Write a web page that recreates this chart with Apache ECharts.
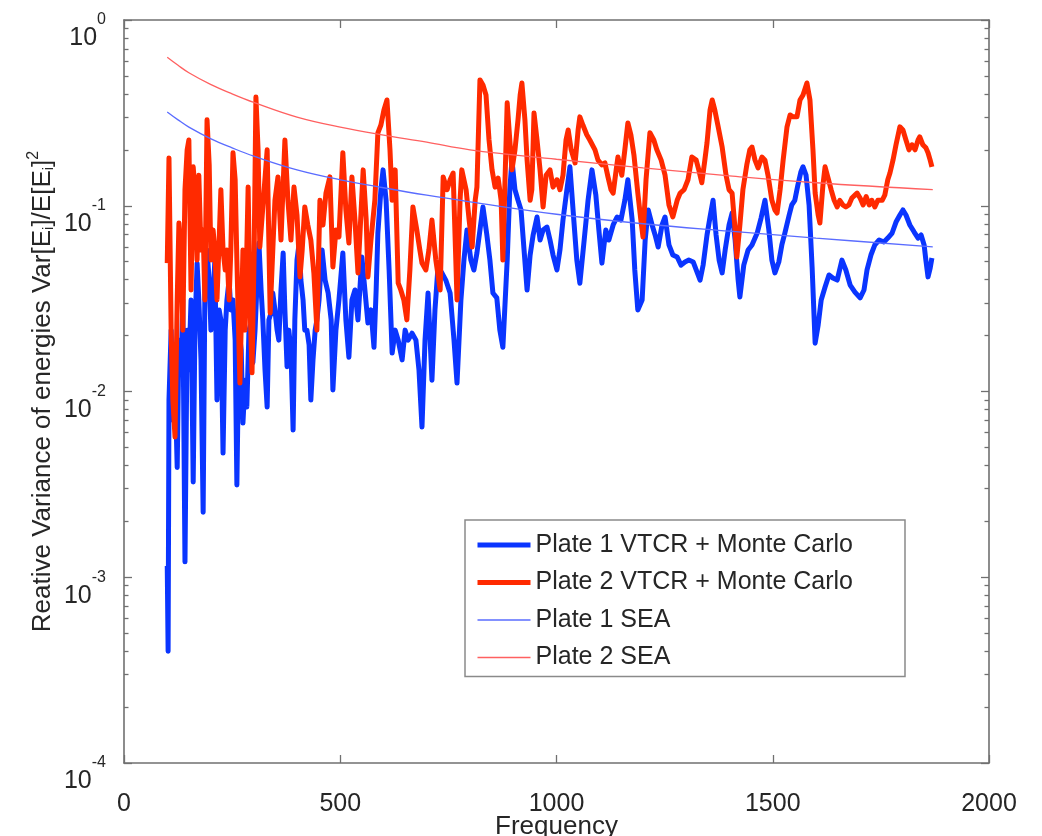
<!DOCTYPE html>
<html>
<head>
<meta charset="utf-8">
<script src="https://cdn.jsdelivr.net/npm/echarts@6/dist/echarts.min.js"></script>
<style>
  html, body { margin: 0; padding: 0; background: #ffffff; }
  #chart { width: 1042px; height: 836px; }
</style>
</head>
<body>
<div id="chart"></div>
<script>
// Plate 1: VTCR + Monte Carlo relative variance
const plate1Freq = [
  100,102,104,109,113,118,123,127,132,136,141,146,150,155,160,164,169,173,178,183,
  187,192,197,201,206,210,215,220,224,229,234,238,243,247,252,257,261,266,271,275,
  280,284,289,294,298,303,308,312,317,321,326,331,335,340,344,349,354,358,363,368,
  372,377,381,386,391,395,400,405,409,414,418,423,428,432,437,442,446,451,458,465,
  472,479,483,490,497,506,513,520,527,534,541,550,557,564,571,578,583,587,594,599,
  606,613,620,627,634,643,650,657,666,675,682,689,696,703,712,719,726,735,744,754,
  763,770,779,786,793,802,809,816,823,830,839,846,853,862,869,876,886,892,897,904,
  911,918,925,932,939,946,955,962,969,978,985,992,1001,1008,1015,1024,1031,1040,1047,1054,
  1064,1073,1082,1091,1098,1105,1114,1121,1131,1140,1149,1158,1165,1175,1181,1188,1198,1205,1212,1221,
  1228,1235,1244,1251,1260,1269,1279,1288,1297,1306,1316,1323,1332,1339,1348,1355,1362,1369,1376,1383,
  1390,1399,1406,1413,1420,1424,1433,1443,1452,1464,1473,1482,1491,1498,1505,1514,1521,1528,1538,1544,
  1551,1558,1565,1570,1577,1584,1591,1598,1605,1612,1621,1630,1639,1649,1660,1669,1679,1690,1702,1711,
  1718,1727,1736,1746,1757,1766,1776,1785,1794,1801,1808,1817,1827,1836,1843,1850,1854,1859,1864,1868
];
const plate1Var = [
  0.00115,0.0004,0.009,0.0214,0.007,0.0115,0.0039,0.0189,0.0131,0.0311,
  0.00121,0.0214,0.0131,0.0311,0.00326,0.0214,0.0491,0.0311,0.0148,0.00224,
  0.0352,0.0578,0.0398,0.0214,0.0311,0.051,0.009,0.0275,0.0243,0.00466,
  0.0214,0.0311,0.0398,0.0275,0.0311,0.0189,0.00314,0.0214,0.0167,0.00676,
  0.0115,0.00825,0.0214,0.0234,0.0143,0.0214,0.0398,0.063,0.0352,0.0243,
  0.0131,0.00825,0.0243,0.0265,0.0339,0.0275,0.0214,0.0189,0.0352,0.0557,
  0.0275,0.0136,0.0214,0.0167,0.0062,0.0243,0.051,0.063,0.0398,0.0311,
  0.0214,0.0214,0.0178,0.009,0.0148,0.0214,0.0243,0.0311,0.0578,0.0398,
  0.0339,0.0243,0.0102,0.0214,0.0311,0.0557,0.0243,0.0153,0.0311,0.0352,
  0.0243,0.053,0.0352,0.0234,0.0275,0.0173,0.0352,0.0713,0.122,0.156,
  0.107,0.0451,0.0161,0.0214,0.0189,0.0148,0.0214,0.0189,0.0206,0.0189,
  0.0131,0.00644,0.0189,0.0339,0.0115,0.0275,0.0468,0.0435,0.0398,0.0339,
  0.0189,0.0111,0.0311,0.051,0.074,0.051,0.0451,0.0557,0.074,0.0985,
  0.0696,0.051,0.0339,0.0319,0.0214,0.0173,0.051,0.122,0.176,0.122,
  0.107,0.0949,0.0578,0.0352,0.0543,0.0696,0.087,0.0654,0.074,0.0768,
  0.0654,0.0543,0.0451,0.0578,0.0838,0.122,0.162,0.0838,0.051,0.0383,
  0.0654,0.107,0.156,0.114,0.074,0.0491,0.074,0.0654,0.0788,0.087,
  0.0838,0.107,0.138,0.0838,0.0451,0.0275,0.0311,0.0654,0.0949,0.0788,
  0.0696,0.06,0.0788,0.087,0.0615,0.0543,0.053,0.0479,0.0498,0.051,
  0.0498,0.0451,0.0398,0.0479,0.0696,0.087,0.107,0.0696,0.051,0.0435,
  0.0578,0.0788,0.0914,0.0654,0.0398,0.0323,0.0479,0.0578,0.0615,0.0713,
  0.0859,0.107,0.074,0.051,0.0435,0.0498,0.0615,0.0713,0.0892,0.101,
  0.107,0.129,0.152,0.162,0.146,0.101,0.0468,0.0182,0.0228,0.0311,
  0.0365,0.0424,0.0408,0.0398,0.051,0.0451,0.0374,0.0343,0.0319,0.0352,
  0.0451,0.0543,0.0615,0.0654,0.0638,0.067,0.0713,0.0817,0.0892,0.0949,
  0.0892,0.0788,0.0722,0.067,0.0696,0.0615,0.051,0.0414,0.0462,0.0523
];

// Plate 2: VTCR + Monte Carlo relative variance
const plate2Freq = [
  100,104,109,113,118,123,127,132,136,141,146,150,155,160,164,169,173,178,183,187,
  192,197,201,206,210,215,220,224,229,234,238,243,247,252,257,261,268,275,280,287,
  291,296,301,305,310,314,321,331,338,345,349,356,363,372,379,386,393,400,407,412,
  418,425,432,439,446,453,460,467,476,483,490,497,506,513,520,527,534,541,553,560,
  564,571,580,587,594,601,608,615,620,627,634,640,647,654,661,668,677,684,689,698,
  705,712,721,731,738,747,754,761,770,777,781,791,798,805,812,816,823,830,837,844,
  851,858,865,872,876,881,886,892,897,904,911,916,920,927,932,939,943,948,955,962,
  969,976,985,992,1001,1008,1015,1022,1027,1034,1043,1050,1054,1061,1070,1077,1089,1096,1105,1112,
  1119,1126,1131,1138,1142,1151,1158,1165,1172,1179,1188,1195,1200,1207,1216,1225,1232,1242,1251,1260,
  1269,1279,1286,1295,1304,1313,1323,1329,1336,1343,1348,1355,1360,1366,1373,1383,1392,1399,1406,1413,
  1417,1424,1431,1440,1447,1452,1459,1466,1475,1482,1489,1498,1505,1510,1517,1524,1533,1540,1547,1556,
  1563,1570,1579,1586,1593,1598,1605,1609,1616,1621,1628,1635,1642,1649,1655,1662,1669,1676,1683,1690,
  1695,1702,1709,1716,1723,1729,1736,1743,1753,1759,1766,1771,1778,1785,1794,1801,1808,1815,1822,1829,
  1836,1840,1847,1854,1859,1864,1868
];
const plate2Var = [
  0.0491,0.181,0.0214,0.009,0.00569,0.0311,0.0807,0.0557,0.0214,0.122,
  0.2,0.226,0.0352,0.162,0.122,0.051,0.146,0.0578,0.074,0.0311,
  0.29,0.166,0.051,0.074,0.0578,0.0311,0.0654,0.122,0.0578,0.0451,
  0.0578,0.0311,0.0578,0.193,0.138,0.051,0.0111,0.0578,0.0214,0.126,
  0.0311,0.0126,0.0578,0.385,0.2,0.06,0.0985,0.2,0.0265,0.0654,
  0.107,0.143,0.0654,0.226,0.107,0.0654,0.126,0.0892,0.0414,0.0578,
  0.0985,0.0788,0.0654,0.0435,0.0214,0.107,0.0788,0.117,0.143,0.0468,
  0.074,0.0679,0.193,0.0949,0.063,0.143,0.0838,0.0435,0.156,0.0838,
  0.0414,0.0654,0.107,0.247,0.272,0.328,0.371,0.2,0.107,0.156,
  0.0383,0.0352,0.0311,0.0243,0.0451,0.0985,0.074,0.0578,0.0491,0.0451,
  0.0578,0.0838,0.051,0.0352,0.143,0.122,0.138,0.15,0.0311,0.107,
  0.156,0.122,0.0838,0.06,0.107,0.126,0.476,0.447,0.395,0.226,
  0.156,0.126,0.141,0.107,0.051,0.138,0.358,0.226,0.156,0.2,
  0.29,0.395,0.458,0.29,0.176,0.107,0.122,0.316,0.226,0.156,
  0.0985,0.146,0.156,0.126,0.138,0.122,0.146,0.226,0.256,0.2,
  0.17,0.256,0.301,0.272,0.241,0.226,0.2,0.176,0.166,0.17,
  0.143,0.122,0.117,0.156,0.183,0.146,0.2,0.279,0.241,0.188,
  0.117,0.0838,0.0679,0.138,0.247,0.226,0.2,0.176,0.146,0.101,
  0.087,0.107,0.117,0.122,0.138,0.183,0.176,0.156,0.133,0.176,
  0.218,0.328,0.371,0.328,0.272,0.207,0.146,0.122,0.117,0.074,
  0.053,0.0788,0.122,0.166,0.2,0.207,0.176,0.16,0.183,0.176,
  0.146,0.107,0.0949,0.0914,0.122,0.176,0.266,0.308,0.301,0.301,
  0.371,0.395,0.458,0.371,0.2,0.117,0.0892,0.0807,0.129,0.162,
  0.141,0.122,0.107,0.0985,0.107,0.101,0.0985,0.101,0.11,0.114,
  0.117,0.11,0.101,0.112,0.101,0.107,0.0985,0.107,0.107,0.114,
  0.138,0.15,0.176,0.213,0.266,0.256,0.226,0.2,0.213,0.2,
  0.226,0.235,0.213,0.205,0.193,0.176,0.162
];

// SEA predictions for both plates
const seaFreq   = [100, 125, 150, 200, 250, 300, 400, 500, 600, 700, 800, 1000, 1200, 1400, 1600, 1870];
const plate1Sea = [0.32, 0.29, 0.265, 0.23, 0.205, 0.185, 0.156, 0.138, 0.125, 0.114, 0.105, 0.09, 0.08, 0.073, 0.067, 0.06];
const plate2Sea = [0.63, 0.57, 0.52, 0.45, 0.40, 0.36, 0.30, 0.265, 0.24, 0.22, 0.20, 0.178, 0.16, 0.145, 0.133, 0.122];

// Axis ticks
const xTicks = [0, 500, 1000, 1500, 2000];
const yDecades = [1e-4, 1e-3, 1e-2, 1e-1, 1];
const minorMantissas = [2, 3, 4, 5, 6, 7, 8, 9];

const seriesNames = [
  'Plate 1 VTCR + Monte Carlo',
  'Plate 2 VTCR + Monte Carlo',
  'Plate 1 SEA',
  'Plate 2 SEA'
];

const FONT = "'Liberation Sans', Arial, Helvetica, sans-serif";
const TEXT = '#262626';
const AXIS = '#707070';
const BLUE = '#0a35ff';
const RED = '#ff2a00';
const BLUE_THIN = '#5a6cff';
const RED_THIN = '#ff6060';

const pairs = (xs, ys) => xs.map((x, i) => [x, ys[i]]);
const yMinor = [];
yDecades.slice(0, -1).forEach(d => minorMantissas.forEach(m => yMinor.push(+(m * d).toPrecision(3))));

const axisLineStyle = { color: AXIS, width: 1.6 };

// Power-of-ten labels: exponent centred on the tick, base sitting below it
const powLabel = {
  show: true,
  customValues: yDecades,
  margin: 18,
  align: 'right',
  verticalAlign: 'middle',
  formatter: v => '{b|10}{s|' + Math.round(Math.log10(v)) + '}',
  rich: {
    b: { fontSize: 25, fontFamily: FONT, color: TEXT, lineHeight: 24, verticalAlign: 'bottom' },
    s: { fontSize: 16, fontFamily: FONT, color: TEXT, lineHeight: 62, verticalAlign: 'middle' }
  }
};

function logAxis(pos, major) {
  return {
    type: 'log',
    logBase: 10,
    min: 1e-4,
    max: 1,
    position: pos,
    axisLine: { show: major, lineStyle: axisLineStyle },
    axisTick: {
      show: true,
      inside: true,
      length: major ? 8 : 4.5,
      customValues: major ? yDecades : yMinor,
      lineStyle: { color: AXIS, width: 1.3 }
    },
    axisLabel: { show: false },
    splitLine: { show: false },
    minorTick: { show: false }
  };
}

const yLeft = logAxis('left', true);
yLeft.axisLabel = powLabel;
yLeft.name = '{t|Reative Variance of energies Var[E}{u|i}{t|]/E[E}{u|i}{t|]}{p|2}';
yLeft.nameLocation = 'middle';
yLeft.nameGap = 68;
yLeft.nameMoveOverlap = false;
yLeft.nameTextStyle = {
  rich: {
    t: { fontSize: 26, fontFamily: FONT, color: TEXT, lineHeight: 30, verticalAlign: 'bottom' },
    u: { fontSize: 15, fontFamily: FONT, color: TEXT, lineHeight: 22, verticalAlign: 'bottom' },
    p: { fontSize: 16, fontFamily: FONT, color: TEXT, lineHeight: 16, verticalAlign: 'top' }
  }
};

function linAxis(pos, showLabels) {
  return {
    type: 'value',
    min: 0,
    max: 2000,
    interval: 500,
    position: pos,
    axisLine: { show: true, lineStyle: axisLineStyle },
    axisTick: { show: true, inside: true, length: 8, customValues: xTicks, lineStyle: { color: AXIS, width: 1.3 } },
    axisLabel: showLabels
      ? { show: true, customValues: xTicks, margin: 29, fontSize: 25, fontFamily: FONT, color: TEXT, formatter: v => String(v) }
      : { show: false },
    splitLine: { show: false }
  };
}

const xBottom = linAxis('bottom', true);
xBottom.name = 'Frequency';
xBottom.nameLocation = 'middle';
xBottom.nameGap = 51;
xBottom.nameMoveOverlap = false;
xBottom.nameTextStyle = { fontSize: 26, fontFamily: FONT, color: TEXT };

const chart = echarts.init(document.getElementById('chart'), null, { renderer: 'canvas' });
chart.setOption({
  animation: false,
  backgroundColor: '#ffffff',
  grid: { left: 124, right: 53, top: 20, bottom: 73, outerBoundsMode: 'none', containLabel: false },
  xAxis: [xBottom, linAxis('top', false)],
  yAxis: [yLeft, logAxis('left', false), logAxis('right', true), logAxis('right', false)],
  legend: {
    orient: 'vertical',
    left: 465,
    top: 520,
    itemWidth: 53,
    itemHeight: 14,
    itemGap: 9.5,
    padding: [11, 52, 5, 10],
    borderColor: '#8a8a8a',
    borderWidth: 1.5,
    backgroundColor: '#ffffff',
    selectedMode: false,
    itemStyle: { opacity: 0 },
    lineStyle: { width: 'inherit' },
    textStyle: { fontSize: 25, fontFamily: FONT, color: TEXT, lineHeight: 28 },
    data: seriesNames
  },
  series: [
    {
      name: seriesNames[0], type: 'line', xAxisIndex: 0, yAxisIndex: 0,
      data: pairs(plate1Freq, plate1Var),
      symbol: 'none', showSymbol: false, z: 2,
      lineStyle: { color: BLUE, width: 5, join: 'round' }, itemStyle: { color: BLUE }
    },
    {
      name: seriesNames[1], type: 'line', xAxisIndex: 0, yAxisIndex: 0,
      data: pairs(plate2Freq, plate2Var),
      symbol: 'none', showSymbol: false, z: 3,
      lineStyle: { color: RED, width: 5, join: 'round' }, itemStyle: { color: RED }
    },
    {
      name: seriesNames[2], type: 'line', xAxisIndex: 0, yAxisIndex: 0,
      data: pairs(seaFreq, plate1Sea), smooth: 0.4,
      symbol: 'none', showSymbol: false, z: 4,
      lineStyle: { color: BLUE_THIN, width: 1.3 }, itemStyle: { color: BLUE_THIN }
    },
    {
      name: seriesNames[3], type: 'line', xAxisIndex: 0, yAxisIndex: 0,
      data: pairs(seaFreq, plate2Sea), smooth: 0.4,
      symbol: 'none', showSymbol: false, z: 4,
      lineStyle: { color: RED_THIN, width: 1.3 }, itemStyle: { color: RED_THIN }
    }
  ]
});
</script>
</body>
</html>
